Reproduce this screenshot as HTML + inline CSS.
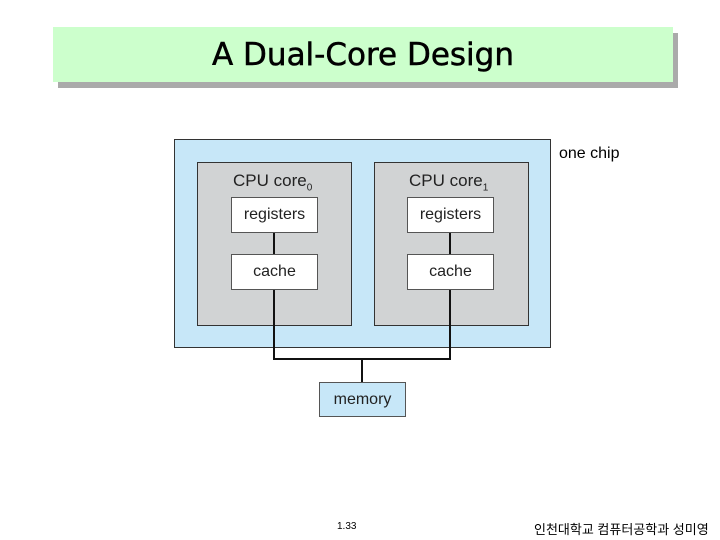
<!DOCTYPE html>
<html><head><meta charset="utf-8"><style>
body{margin:0;width:720px;height:540px;background:#fff;position:relative;overflow:hidden;font-family:"Liberation Sans",sans-serif}
.a{position:absolute;box-sizing:border-box}
.w{background:#fff;border:1px solid #555;display:flex;align-items:center;justify-content:center;font-size:16px;color:#222}
.ln{position:absolute;background:#111}
</style></head><body>
<div class="a" style="left:58px;top:33px;width:620px;height:55px;background:#aaa"></div>
<div class="a" style="left:53px;top:27px;width:620px;height:55px;background:#ccffcc;display:flex;align-items:center;justify-content:center;font-size:31px;color:#000;font-family:'DejaVu Sans',sans-serif;-webkit-text-stroke:0.5px #000">A Dual-Core Design</div>

<div class="a" style="left:174px;top:139px;width:377px;height:209px;background:#c7e7f8;border:1px solid #333"></div>
<div class="a" style="left:559px;top:145px;font-size:16px">one chip</div>
<div class="a" style="left:197px;top:162px;width:155px;height:164px;background:#d1d3d4;border:1px solid #333"></div>
<div class="a" style="left:374px;top:162px;width:155px;height:164px;background:#d1d3d4;border:1px solid #333"></div>
<div class="a" style="left:233px;top:171px;font-size:17px;color:#222">CPU core<sub style="font-size:10px">0</sub></div>
<div class="a" style="left:409px;top:171px;font-size:17px;color:#222">CPU core<sub style="font-size:10px">1</sub></div>

<div class="ln" style="left:273px;top:232px;width:2px;height:128px"></div>
<div class="ln" style="left:449px;top:232px;width:2px;height:128px"></div>
<div class="ln" style="left:273px;top:358px;width:178px;height:2px"></div>
<div class="ln" style="left:361px;top:358px;width:2px;height:25px"></div>

<div class="a w" style="left:231px;top:197px;width:87px;height:36px">registers</div>
<div class="a w" style="left:231px;top:254px;width:87px;height:36px">cache</div>
<div class="a w" style="left:407px;top:197px;width:87px;height:36px">registers</div>
<div class="a w" style="left:407px;top:254px;width:87px;height:36px">cache</div>
<div class="a w" style="left:319px;top:382px;width:87px;height:35px;background:#c7e7f8">memory</div>

<div class="a" style="left:337px;top:521px;font-size:10px">1.33</div>
<div class="a" style="left:534px;top:519px;font-size:13px;font-family:'Liberation Sans','Noto Sans CJK KR',sans-serif">인천대학교 컴퓨터공학과 성미영</div>
</body></html>
